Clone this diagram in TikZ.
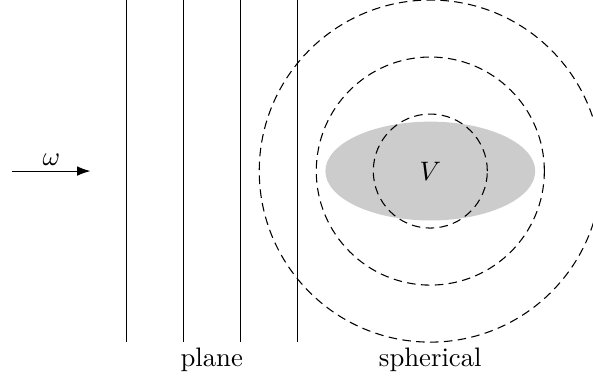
\documentclass[tikz,border=0pt]{standalone}
\usetikzlibrary{shapes.geometric,calc,arrows.meta}
\begin{document}
\begin{tikzpicture}[
  front/.style={thin},
  wave/.style={thin, dash pattern=on 3.2pt off 2pt},
  volume/.style={ellipse, fill=black!20, minimum width=2.76cm, minimum height=1.3cm, inner sep=0pt},
  lbl/.style={below, inner sep=2pt}
]
  \useasboundingbox (-5.66,-2.74) rectangle (2.14,2.25);
  \begin{scope}
    \clip (-5.66,-2.74) rectangle (2.14,2.25);
    % scatterer
    \node[volume] (vol) at (0,0) {$V$};
    % spherical waves
    \foreach \r in {0.75,1.5,2.25}
      \draw[wave] (vol.center) circle (\r);
  \end{scope}
  % plane wave fronts
  \foreach \x [count=\i] in {-4,-3.25,-2.5,-1.75}
    \draw[front] (\x,2.25) coordinate (t\i) -- (\x,-2.25) coordinate (b\i);
  % incident direction
  \coordinate (src) at (-5.5,0);
  \coordinate (dst) at (-4.47,0);
  \draw[-{Latex[length=5pt,width=3.6pt]}] (src) -- node[above, inner sep=2pt] (om) {$\omega$} (dst);
  % labels
  \coordinate (pl) at ($(b1)!0.5!(b4)$);
  \node[lbl] (plane) at (pl) {plane};
  \node[lbl] (sph) at (vol.center |- b1) {spherical};
\end{tikzpicture}
\end{document}
